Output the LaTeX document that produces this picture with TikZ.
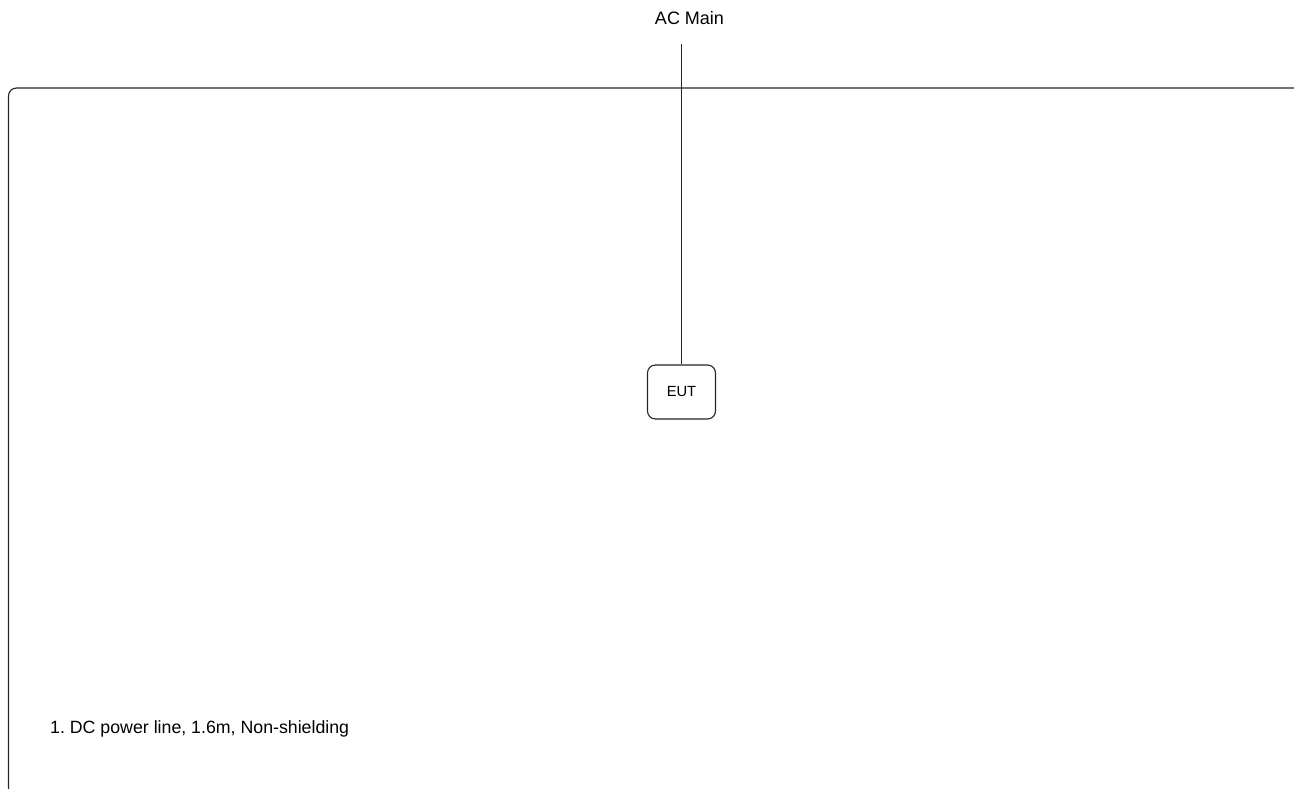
\documentclass[tikz,border=0pt]{standalone}
\usepackage{fontspec}
\setmainfont{Liberation Sans}
\begin{document}
\frenchspacing
\begin{tikzpicture}[x=1pt,y=-1pt,
  line/.style={draw=black!85,line width=1.1pt},
  eutbox/.style={line,rounded corners=8pt,minimum width=68pt,minimum height=54pt,inner sep=0pt,font=\fontsize{14.7}{16}\selectfont},
  lbl/.style={inner sep=0pt,font=\fontsize{18}{20}\selectfont}]
\useasboundingbox (0,0) rectangle (1294,789);
\begin{scope}
\clip (0,0) rectangle (1294,789);
\draw[line,rounded corners=8pt] (8.5,88) rectangle (1320,796);
\end{scope}
\node[lbl] (ac) at (689.5,18) {AC Main};
\coordinate (actop) at (681.5,44);
\node[eutbox] (eut) at (681.5,392) {EUT};
\draw[line] (actop) -- (eut.north);
\node[lbl,anchor=west,font=\fontsize{17.75}{20}\selectfont] (note) at (50,729) {1. DC power line, 1.6m, Non-shielding};
\end{tikzpicture}
\end{document}
